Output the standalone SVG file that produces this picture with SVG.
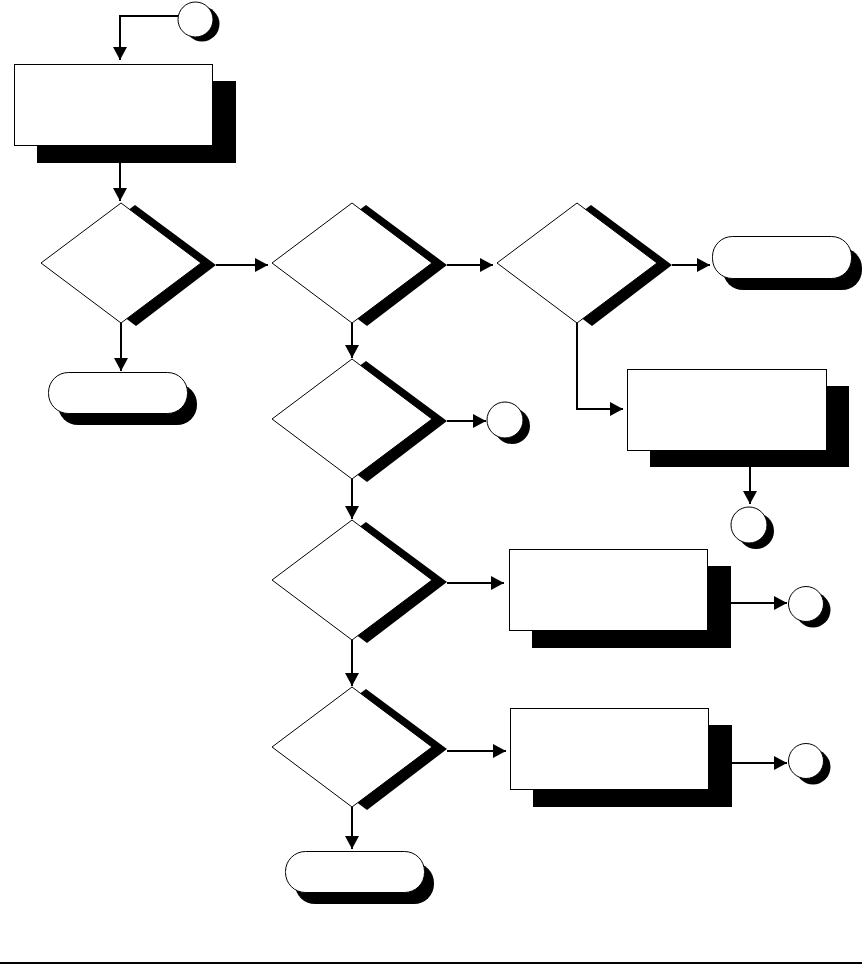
<svg xmlns="http://www.w3.org/2000/svg" width="868" height="964" viewBox="0 0 868 964">
<style>
.shape{fill:#fff;stroke:#000;stroke-width:1}
.shadow{fill:#000;stroke:none}
.conn{fill:none;stroke:#000;stroke-width:2}
</style>
<defs>
<marker id="arr" markerUnits="userSpaceOnUse" markerWidth="14" markerHeight="14" refX="13" refY="7" orient="auto">
<path d="M0,0 L13,7 L0,14 Z" fill="#000"/>
</marker>
</defs>
<rect x="0" y="0" width="868" height="964" fill="#fff"/>

<g id="start">
<circle class="shadow" cx="202" cy="24" r="17.5"/>
<circle class="shape" cx="195.5" cy="19.5" r="17.5"/>
</g>

<g id="process1">
<rect class="shadow" x="37" y="81" width="199" height="82"/>
<rect class="shape" x="14.5" y="64.5" width="198" height="81"/>
</g>

<g id="decision1">
<polygon class="shadow" points="135,205 216,265 136,326 55,265"/>
<polygon class="shape" points="121,203 201,263 121,323 41,263"/>
</g>

<g id="end1">
<rect class="shadow" x="58" y="384" width="139" height="41" rx="20" ry="20"/>
<rect class="shape" x="48.5" y="372.5" width="139" height="41" rx="20" ry="20"/>
</g>

<g id="decision2">
<polygon class="shadow" points="366,205 447,265 367,326 286,265"/>
<polygon class="shape" points="352,203 432,263 352,323 272,263"/>
</g>

<g id="decision3">
<polygon class="shadow" points="591,205 672,265 592,326 511,265"/>
<polygon class="shape" points="577,203 657,263 577,323 497,263"/>
</g>

<g id="end2">
<rect class="shadow" x="723" y="248" width="139" height="42" rx="20" ry="20"/>
<rect class="shape" x="712.5" y="236.5" width="139" height="42" rx="20" ry="20"/>
</g>

<g id="process3">
<rect class="shadow" x="650" y="386" width="199" height="81"/>
<rect class="shape" x="627.5" y="369.5" width="199" height="81"/>
</g>

<g id="connector3">
<circle class="shadow" cx="756" cy="531" r="18"/>
<circle class="shape" cx="749" cy="525" r="18"/>
</g>

<g id="decision4">
<polygon class="shadow" points="366,361 447,421 367,482 286,421"/>
<polygon class="shape" points="352,359 432,419 352,479 272,419"/>
</g>

<g id="connector4">
<circle class="shadow" cx="512" cy="426" r="18"/>
<circle class="shape" cx="505" cy="420" r="18"/>
</g>

<g id="decision5">
<polygon class="shadow" points="366,522 447,582 367,643 286,582"/>
<polygon class="shape" points="352,520 432,580 352,640 272,580"/>
</g>

<g id="process4">
<rect class="shadow" x="532" y="566" width="199" height="82"/>
<rect class="shape" x="509.5" y="549.5" width="198" height="81"/>
</g>

<g id="connector5">
<circle class="shadow" cx="813" cy="610" r="17.5"/>
<circle class="shape" cx="806" cy="604" r="17.5"/>
</g>

<g id="decision6">
<polygon class="shadow" points="366,689 447,749 367,810 286,749"/>
<polygon class="shape" points="352,687 432,747 352,807 272,747"/>
</g>

<g id="process5">
<rect class="shadow" x="533" y="725" width="199" height="82"/>
<rect class="shape" x="510.5" y="708.5" width="198" height="81"/>
</g>

<g id="connector6">
<circle class="shadow" cx="813" cy="767" r="17.5"/>
<circle class="shape" cx="806" cy="761" r="17.5"/>
</g>

<g id="end3">
<rect class="shadow" x="295" y="863" width="139" height="41" rx="20" ry="20"/>
<rect class="shape" x="285.5" y="851.5" width="139" height="41" rx="20" ry="20"/>
</g>

<g id="connectors">
<path class="conn" d="M178,16 H120 V60" marker-end="url(#arr)"/>
<path class="conn" d="M120,163 V201" marker-end="url(#arr)"/>
<path class="conn" d="M121,323 V371" marker-end="url(#arr)"/>
<path class="conn" d="M216,265 H268" marker-end="url(#arr)"/>
<path class="conn" d="M447,265 H493" marker-end="url(#arr)"/>
<path class="conn" d="M672,265 H710" marker-end="url(#arr)"/>
<path class="conn" d="M577,323 V409 H623" marker-end="url(#arr)"/>
<path class="conn" d="M352,323 V358" marker-end="url(#arr)"/>
<path class="conn" d="M447,421 H486" marker-end="url(#arr)"/>
<path class="conn" d="M352,479 V519" marker-end="url(#arr)"/>
<path class="conn" d="M447,583 H504" marker-end="url(#arr)"/>
<path class="conn" d="M352,640 V686" marker-end="url(#arr)"/>
<path class="conn" d="M447,751 H506" marker-end="url(#arr)"/>
<path class="conn" d="M352,807 V849" marker-end="url(#arr)"/>
<path class="conn" d="M750,467 V504" marker-end="url(#arr)"/>
<path class="conn" d="M731,603 H787" marker-end="url(#arr)"/>
<path class="conn" d="M732,763 H787" marker-end="url(#arr)"/>
</g>

<rect x="0" y="962" width="862" height="2" fill="#000"/>
</svg>
